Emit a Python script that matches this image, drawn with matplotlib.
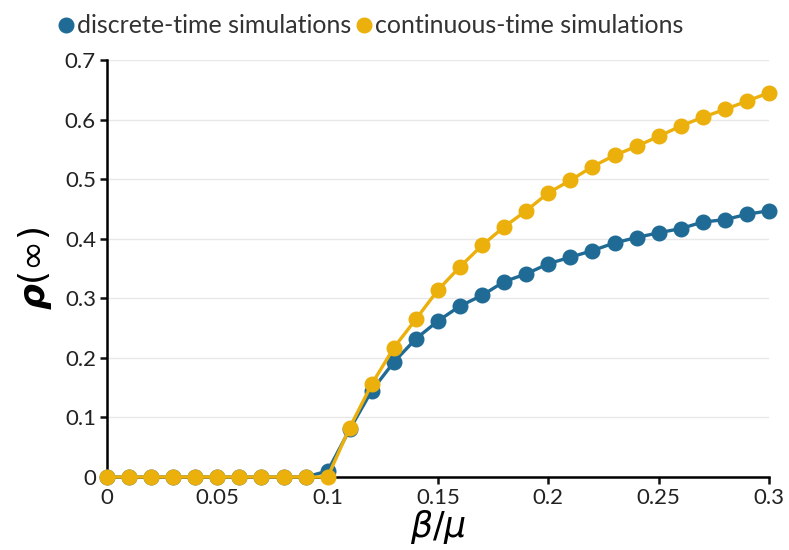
import numpy as np
import matplotlib
matplotlib.use("Agg")
import matplotlib.pyplot as plt

plt.rcParams['font.family'] = ['Lato', 'DejaVu Sans']
plt.rcParams['mathtext.fontset'] = 'dejavusans'

beta_mu = [0.00, 0.01, 0.02, 0.03, 0.04, 0.05, 0.06, 0.07, 0.08, 0.09, 0.10,
           0.11, 0.12, 0.13, 0.14, 0.15, 0.16, 0.17, 0.18, 0.19, 0.20,
           0.21, 0.22, 0.23, 0.24, 0.25, 0.26, 0.27, 0.28, 0.29, 0.30]
discrete = [0, 0, 0, 0, 0, 0, 0, 0, 0, 0, 0.010,
            0.080, 0.145, 0.193, 0.232, 0.262, 0.287, 0.305, 0.328, 0.341, 0.358,
            0.369, 0.380, 0.393, 0.402, 0.410, 0.417, 0.428, 0.432, 0.441, 0.447]
continuous = [0, 0, 0, 0, 0, 0, 0, 0, 0, 0, 0,
              0.083, 0.156, 0.217, 0.265, 0.314, 0.353, 0.389, 0.420, 0.447, 0.477,
              0.498, 0.521, 0.540, 0.555, 0.572, 0.589, 0.604, 0.617, 0.631, 0.645]

BLUE = '#1f6b96'
ORANGE = '#ecb00c'

fig = plt.figure(figsize=(7.89, 5.5), dpi=100)
ax = fig.add_axes([107/789, 73/550, 662/789, 417/550])

ax.plot(beta_mu, discrete, color=BLUE, lw=2.4, marker='o', ms=10.5,
        label='discrete-time simulations', clip_on=False, zorder=3)
ax.plot(beta_mu, continuous, color=ORANGE, lw=2.4, marker='o', ms=10.5,
        label='continuous-time simulations', clip_on=False, zorder=4)

ax.set_xlim(0, 0.3)
ax.set_ylim(0, 0.7)
ax.set_xticks([0, 0.05, 0.1, 0.15, 0.2, 0.25, 0.3])
ax.set_xticklabels(['0', '0.05', '0.1', '0.15', '0.2', '0.25', '0.3'])
ax.set_yticks(np.arange(0, 0.71, 0.1))
ax.set_yticklabels(['0', '0.1', '0.2', '0.3', '0.4', '0.5', '0.6', '0.7'])
ax.tick_params(labelsize=16, length=5, width=1.8, colors='#111111',
               labelcolor='#222222', pad=3)
ax.grid(axis='y', color='#e8e8e8', lw=1)
ax.set_axisbelow(True)
for s in ['top', 'right']:
    ax.spines[s].set_visible(False)
for s in ['left', 'bottom']:
    ax.spines[s].set_linewidth(1.8)

ax.set_xlabel(r'$\beta/\mu$', fontsize=25, labelpad=0)
ax.set_ylabel(r'$\boldsymbol{\rho}(\infty)$', fontsize=26, labelpad=8)

leg = fig.legend(loc='upper left', bbox_to_anchor=(36/789, 1.015), ncol=2, frameon=False,
                 fontsize=18, handlelength=0.6, handletextpad=0.15, columnspacing=0.2,
                 labelcolor='#333333')
for h in leg.legend_handles:
    h.set_linestyle('')

fig.savefig('out.png', dpi=100)
